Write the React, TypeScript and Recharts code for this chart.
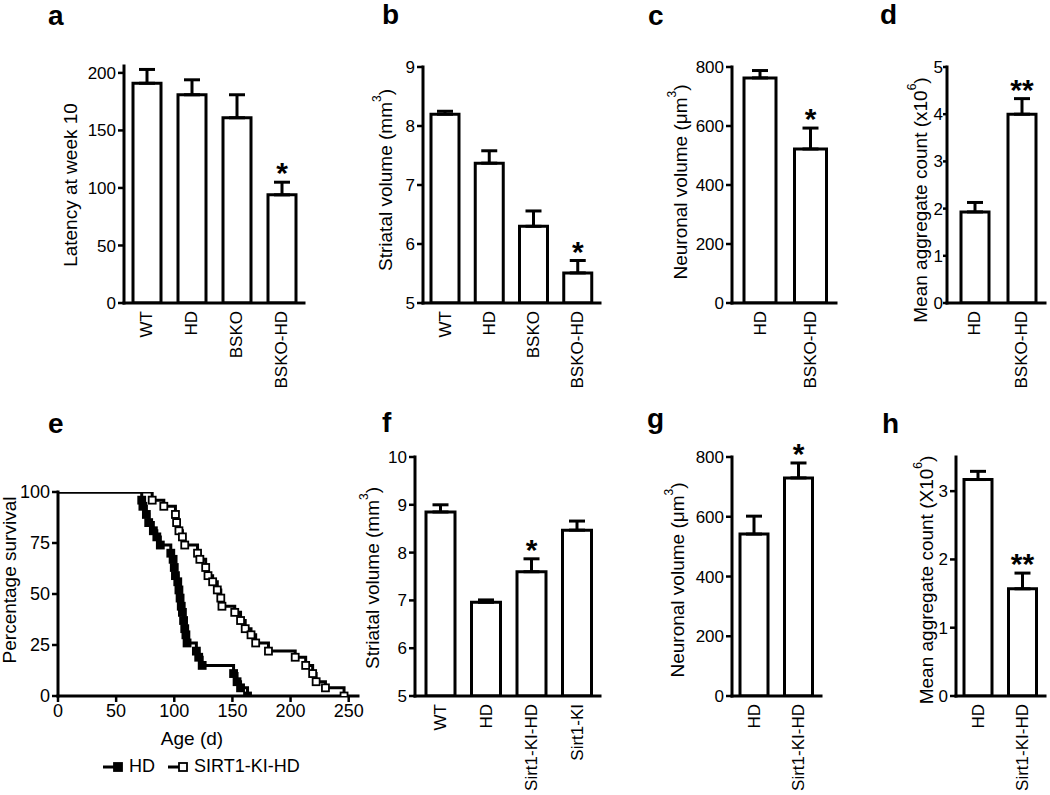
import { BarChart, Bar, XAxis, YAxis, ErrorBar, LabelList, LineChart, Line, Legend } from 'recharts'

const FONT = "'Liberation Sans', Arial, Helvetica, sans-serif"
const INK = '#000'

// a-d: BSKO cohort
const bskoGroups = ['WT', 'HD', 'BSKO', 'BSKO-HD']
const latencyWeek10 = [191, 181, 161, 94]
const latencyWeek10Sem = [12, 13, 20, 11]
const latencySig = ['', '', '', '*']

const striatalBsko = [8.2, 7.37, 6.3, 5.51]
const striatalBskoSem = [0.05, 0.21, 0.26, 0.21]
const striatalBskoSig = ['', '', '', '*']

const bskoPair = ['HD', 'BSKO-HD']
const neuronalBsko = [763, 522]
const neuronalBskoSem = [25, 71]
const neuronalBskoSig = ['', '*']

const aggregateBsko = [1.93, 4.0]
const aggregateBskoSem = [0.2, 0.33]
const aggregateBskoSig = ['', '**']

// e: Kaplan-Meier survival
const hdDays = [0, 72, 73, 76, 78, 82, 85, 88, 97, 99, 100, 101, 103, 104, 105, 106, 107, 108, 109, 110, 111, 119, 121, 124, 151, 154, 157, 163]
const hdSurvival = [100, 96, 93, 89, 85, 81, 78, 74, 70, 67, 63, 59, 56, 52, 48, 44, 41, 37, 33, 30, 26, 22, 19, 15, 11, 7, 4, 0]
const kiDays = [0, 81, 91, 101, 102, 104, 107, 109, 120, 122, 127, 129, 133, 137, 140, 141, 152, 157, 161, 166, 170, 181, 204, 213, 219, 222, 230, 246]
const kiSurvival = [100, 96, 93, 89, 85, 81, 78, 74, 70, 67, 63, 59, 56, 52, 48, 44, 41, 37, 33, 30, 26, 22, 19, 15, 11, 7, 4, 0]
const ageTicks = [0, 50, 100, 150, 200, 250]
const survivalTicks = [0, 25, 50, 75, 100]

// f-h: SIRT1 knock-in cohort
const kiGroups = ['WT', 'HD', 'Sirt1-KI-HD', 'Sirt1-KI']
const striatalKi = [8.85, 6.96, 7.6, 8.47]
const striatalKiSem = [0.15, 0.05, 0.27, 0.19]
const striatalKiSig = ['', '', '*', '']

const kiPair = ['HD', 'Sirt1-KI-HD']
const neuronalKi = [542, 730]
const neuronalKiSem = [60, 50]
const neuronalKiSig = ['', '*']

const aggregateKi = [3.17, 1.57]
const aggregateKiSem = [0.12, 0.23]
const aggregateKiSig = ['', '**']

const axisStyle = { stroke: INK, strokeWidth: 3, strokeLinecap: 'square' as const }
const tickStyle = { stroke: INK, strokeWidth: 2.5 }

function AxisTitle({ tx, ty, text, sup, rotate = true }: any) {
  return (
    <text
      x={tx}
      y={ty}
      transform={rotate ? `rotate(-90 ${tx} ${ty})` : undefined}
      textAnchor="middle"
      dominantBaseline="central"
      fontSize={19}
      fill={INK}
    >
      {text}
      {sup && <tspan dy={-8} fontSize={12}>{sup}</tspan>}
      {sup && <tspan dy={8}>)</tspan>}
    </text>
  )
}

function GroupTick({ x, y, payload }: any) {
  return (
    <text x={x} y={y} transform={`rotate(-90 ${x} ${y})`} textAnchor="end" dominantBaseline="central" fontSize={17} fill={INK}>
      {payload.value}
    </text>
  )
}

interface PanelProps {
  groups: string[]
  means: number[]
  sems: number[]
  sig: string[]
  axisX: number
  plotTop: number
  plotBottom: number
  plotRight: number
  domain: [number, number]
  ticks: number[]
  padLeft?: number
  barSize?: number
  tickLen?: number
  tickGap?: number
  title: string
  sup?: string
  titleX: number
  titleY: number
}

function BarPanel(p: PanelProps) {
  const ML = 70, MT = 24, MR = 4, XH = 100
  const left = p.axisX - ML
  const top = p.plotTop - MT
  const width = p.plotRight + MR - left
  const height = p.plotBottom + XH - top
  const data = p.groups.map((g, i) => ({ group: g, mean: p.means[i], sem: p.sems[i], err: [0, p.sems[i]], sig: p.sig[i] }))
  const base = p.domain[0]

  const stars = (props: any) => {
    const vb = props.viewBox ?? props
    const value = props.value
    if (!value) return null
    const row = data[props.index]
    const x = Number(vb.x), y = Number(vb.y), w = Number(vb.width), h = Number(vb.height)
    const errTop = y - row.sem * (h / (row.mean - base))
    return (
      <text x={x + w / 2} y={errTop + 1} textAnchor="middle" fontSize={30} fontWeight="bold" fill={INK}>
        {value}
      </text>
    )
  }

  return (
    <div style={{ position: 'absolute', left, top }}>
      <BarChart width={width} height={height} data={data} margin={{ top: MT, right: MR, left: 0, bottom: 0 }}>
        <XAxis
          dataKey="group"
          height={XH}
          axisLine={axisStyle}
          tickLine={false}
          tickSize={0}
          tickMargin={8}
          interval={0}
          padding={{ left: p.padLeft ?? 0, right: 0 }}
          tick={<GroupTick />}
        />
        <YAxis
          width={ML}
          domain={p.domain}
          ticks={p.ticks}
          allowDataOverflow
          axisLine={axisStyle}
          tickLine={tickStyle}
          tickSize={p.tickLen ?? 6}
          tickMargin={p.tickGap ?? 2}
          tick={{ fontSize: 17, fill: INK }}
          label={<AxisTitle tx={p.titleX - left} ty={p.titleY - top} text={p.title} sup={p.sup} />}
        />
        <Bar dataKey="mean" fill="#fff" stroke={INK} strokeWidth={3} barSize={p.barSize ?? 28} isAnimationActive={false}>
          <ErrorBar dataKey="err" width={8} stroke={INK} strokeWidth={3} isAnimationActive={false} />
          <LabelList dataKey="sig" content={stars} />
        </Bar>
      </BarChart>
    </div>
  )
}

const markerFill: Record<string, string> = { HD: INK, 'SIRT1-KI-HD': '#fff' }

function squareDot(fill: string) {
  return (props: any) => {
    const { cx, cy, index } = props
    if (index === 0 || cx == null) return <g key={`d-${index}`} />
    return <rect key={`d-${index}`} x={cx - 3.5} y={cy - 3.5} width={7} height={7} fill={fill} stroke={INK} strokeWidth={1.8} />
  }
}

function SurvivalLegend({ payload }: any) {
  return (
    <div style={{ display: 'flex', alignItems: 'center', fontSize: 18, color: INK, fontFamily: FONT, whiteSpace: 'nowrap' }}>
      {(payload ?? []).map((e: any) => (
        <span key={e.value} style={{ display: 'inline-flex', alignItems: 'center', marginRight: 12 }}>
          <svg width={24} height={12} style={{ marginRight: 3 }}>
            <line x1={1} y1={6} x2={20} y2={6} stroke={INK} strokeWidth={3} />
            <rect x={12} y={2} width={8} height={8} fill={markerFill[e.value] ?? INK} stroke={INK} strokeWidth={1.8} />
          </svg>
          {e.value}
        </span>
      ))}
    </div>
  )
}

function SurvivalPanel() {
  const left = 0, top = 440
  const ML = 8, YW = 50, MR = 2
  const plotTop = 492, plotBottom = 696, plotRight = 358
  const extra = 16
  const width = plotRight + MR - left + extra
  const height = 795 - top
  const XH = height - (plotBottom - top)
  const hdRows = hdDays.map((d, i) => ({ day: d, pct: hdSurvival[i] }))
  const kiRows = kiDays.map((d, i) => ({ day: d, pct: kiSurvival[i] }))
  return (
    <div style={{ position: 'absolute', left, top }}>
      <LineChart width={width} height={height} margin={{ top: plotTop - top, right: MR + extra, left: ML, bottom: 0 }}>
        <XAxis
          type="number"
          dataKey="day"
          domain={[0, 258]}
          ticks={ageTicks}
          allowDataOverflow
          height={XH}
          axisLine={axisStyle}
          tickLine={tickStyle}
          tickSize={6}
          tickMargin={2}
          tick={{ fontSize: 18, fill: INK }}
          label={<AxisTitle tx={192} ty={738 - top} text="Age (d)" rotate={false} />}
        />
        <YAxis
          type="number"
          domain={[0, 100]}
          ticks={survivalTicks}
          allowDataOverflow
          width={YW}
          axisLine={axisStyle}
          tickLine={tickStyle}
          tickSize={6}
          tickMargin={2}
          tick={{ fontSize: 18, fill: INK }}
          label={<AxisTitle tx={9} ty={580 - top} text="Percentage survival" />}
        />
        <Legend
          verticalAlign="middle"
          align="center"
          content={<SurvivalLegend />}
          wrapperStyle={{ left: 102, top: 767 - top - 11, width: 'auto', height: 'auto' }}
        />
        <Line data={hdRows} dataKey="pct" name="HD" type="stepAfter" stroke={INK} strokeWidth={3} dot={squareDot(INK)} activeDot={false} isAnimationActive={false} />
        <Line data={kiRows} dataKey="pct" name="SIRT1-KI-HD" type="stepAfter" stroke={INK} strokeWidth={3} dot={squareDot('#fff')} activeDot={false} isAnimationActive={false} />
      </LineChart>
    </div>
  )
}

const panelLetters = [
  { t: 'a', x: 48, y: 25 }, { t: 'b', x: 382, y: 24 }, { t: 'c', x: 648, y: 25 }, { t: 'd', x: 880, y: 24 },
  { t: 'e', x: 48, y: 433 }, { t: 'f', x: 382, y: 432 }, { t: 'g', x: 647, y: 428 }, { t: 'h', x: 882, y: 433 },
]

export default function App() {
  return (
    <div style={{ position: 'absolute', left: 0, top: 0, width: 1050, height: 795, background: '#fff', overflow: 'hidden', fontFamily: FONT }}>
      <BarPanel groups={bskoGroups} means={latencyWeek10} sems={latencyWeek10Sem} sig={latencySig}
        axisX={124} plotTop={66} plotBottom={303} plotRight={304} domain={[0, 206]} ticks={[0, 50, 100, 150, 200]}
        title="Latency at week 10" titleX={70} titleY={185} />
      <BarPanel groups={bskoGroups} means={striatalBsko} sems={striatalBskoSem} sig={striatalBskoSig}
        axisX={423} plotTop={67} plotBottom={303} plotRight={600} domain={[5, 9]} ticks={[5, 6, 7, 8, 9]}
        title="Striatal volume (mm" sup="3" titleX={385} titleY={180} />
      <BarPanel groups={bskoPair} means={neuronalBsko} sems={neuronalBskoSem} sig={neuronalBskoSig}
        axisX={732} plotTop={67} plotBottom={303} plotRight={836} padLeft={3} barSize={32} domain={[0, 800]} ticks={[0, 200, 400, 600, 800]}
        title="Neuronal volume (μm" sup="3" titleX={680} titleY={182} />
      <BarPanel groups={bskoPair} means={aggregateBsko} sems={aggregateBskoSem} sig={aggregateBskoSig}
        axisX={947} plotTop={67} plotBottom={303} plotRight={1045} padLeft={4} tickLen={4} tickGap={0} domain={[0, 5]} ticks={[0, 1, 2, 3, 4, 5]}
        title="Mean aggregate count (x10" sup="6" titleX={920} titleY={200} />

      <SurvivalPanel />

      <BarPanel groups={kiGroups} means={striatalKi} sems={striatalKiSem} sig={striatalKiSig}
        axisX={415} plotTop={457} plotBottom={696} plotRight={600} padLeft={3} barSize={29} domain={[5, 10]} ticks={[5, 6, 7, 8, 9, 10]}
        title="Striatal volume (mm" sup="3" titleX={372} titleY={578} />
      <BarPanel groups={kiPair} means={neuronalKi} sems={neuronalKiSem} sig={neuronalKiSig}
        axisX={732} plotTop={457} plotBottom={696} plotRight={821} domain={[0, 800]} ticks={[0, 200, 400, 600, 800]}
        title="Neuronal volume (μm" sup="3" titleX={677} titleY={580} />
      <BarPanel groups={kiPair} means={aggregateKi} sems={aggregateKiSem} sig={aggregateKiSig}
        axisX={956} plotTop={457} plotBottom={696} plotRight={1045} domain={[0, 3.5]} ticks={[0, 1, 2, 3]}
        title="Mean aggregate count (X10" sup="6" titleX={926} titleY={580} />

      <svg width={1050} height={795} style={{ position: 'absolute', left: 0, top: 0, pointerEvents: 'none' }}>
        {panelLetters.map(l => (
          <text key={l.t} x={l.x} y={l.y} fontSize={28} fontWeight="bold" fill={INK}>{l.t}</text>
        ))}
      </svg>
    </div>
  )
}
